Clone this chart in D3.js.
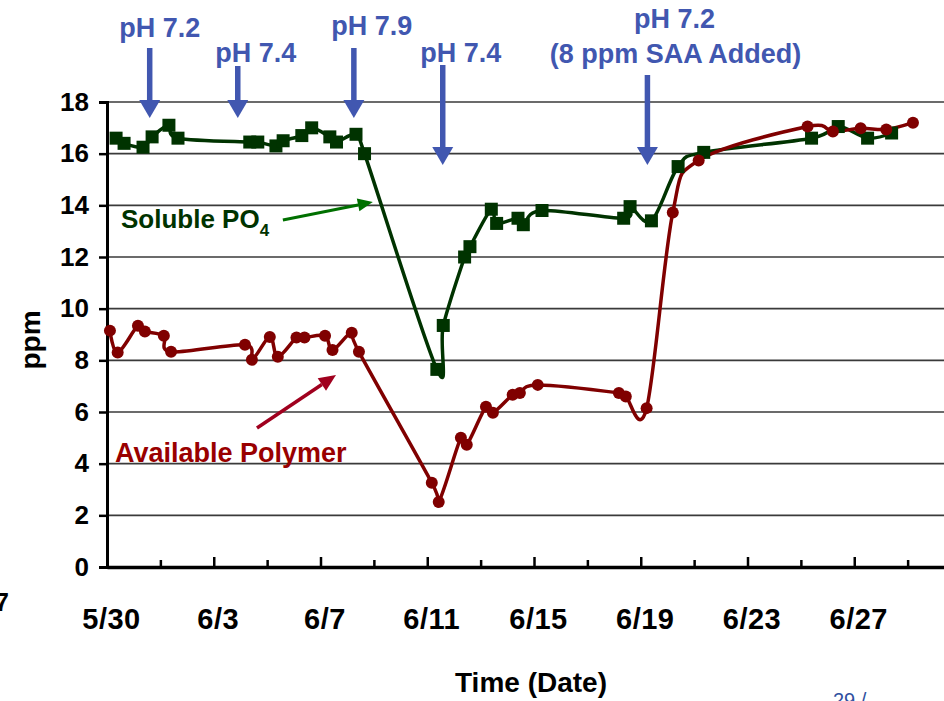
<!DOCTYPE html>
<html>
<head>
<meta charset="utf-8">
<script src="https://cdn.jsdelivr.net/npm/d3@7"></script>
<style>
  body { margin: 0; background: #fff; overflow: hidden; }
  svg text { font-family: Arial, "Liberation Sans", sans-serif; font-weight: bold; }
</style>
</head>
<body>
<svg id="chart" width="944" height="701"></svg>
<script>
// sample times, in days after 5/30
var po4Days = [0.34, 0.64, 1.35, 1.69, 2.32, 2.66, 5.35, 5.65, 6.33, 6.6, 7.3, 7.67, 8.35, 8.6, 9.33, 9.65,
               12.36, 12.6, 13.4, 13.6, 14.4, 14.6, 15.4, 15.6, 16.3, 19.36, 19.6, 20.4, 21.4, 22.36,
               26.4, 27.4, 28.5, 29.4];
var po4Vals = [16.6, 16.4, 16.25, 16.65, 17.1, 16.6, 16.45, 16.45, 16.3, 16.5, 16.7, 17.0, 16.65, 16.45, 16.75, 16.0,
               7.65, 9.35, 12.0, 12.4, 13.85, 13.3, 13.5, 13.25, 13.8, 13.5, 13.95, 13.4, 15.5, 16.05,
               16.6, 17.05, 16.6, 16.8];

var polyDays = [0.11, 0.4, 1.16, 1.42, 2.13, 2.4, 5.17, 5.43, 6.1, 6.4, 7.1, 7.4, 8.17, 8.45, 9.17, 9.44,
                12.17, 12.43, 13.26, 13.48, 14.2, 14.46, 15.2, 15.47, 16.14, 19.18, 19.44, 20.22,
                21.2, 22.17, 26.25, 27.2, 28.24, 29.2, 30.2];
var polyVals = [9.15, 8.3, 9.34, 9.12, 8.95, 8.33, 8.6, 8.02, 8.9, 8.14, 8.88, 8.88, 8.95, 8.4, 9.07, 8.33,
                3.26, 2.52, 5.0, 4.73, 6.2, 5.97, 6.67, 6.74, 7.05, 6.74, 6.6, 6.15,
                13.72, 15.74, 17.05, 16.86, 16.98, 16.94, 17.2];

var yTicks = [0, 2, 4, 6, 8, 10, 12, 14, 16, 18];
var xTickDays = [0, 2, 4, 6, 8, 10, 12, 14, 16, 18, 20, 22, 24, 26, 28, 30];
var xLabelDays = [0, 4, 8, 12, 16, 20, 24, 28];
var xLabels = ["5/30", "6/3", "6/7", "6/11", "6/15", "6/19", "6/23", "6/27"];

// pH change notes
var phDays = [1.6, 4.9, 9.25, 12.58, 20.25];
var phLabels = ["pH 7.2", "pH 7.4", "pH 7.9", "pH 7.4", "pH 7.2"];
var phSubLabels = ["", "", "", "", "(8 ppm SAA Added)"];

var svg = d3.select("#chart");
var blue = "#4157b0", green = "#003300", red = "#800000";

var x = d3.scaleLinear().domain([0, 32]).range([107, 961]);
var y = d3.scaleLinear().domain([0, 18]).range([567, 102]);

// gridlines
svg.append("g").selectAll("line")
  .data(yTicks.filter(function(d) { return d > 0; }))
  .enter().append("line")
    .attr("x1", x(0)).attr("x2", x(32))
    .attr("y1", function(d) { return y(d); })
    .attr("y2", function(d) { return y(d); })
    .attr("stroke", "#3a3a3a")
    .attr("stroke-width", 1.6);

// y axis
var yAxis = svg.append("g")
  .attr("transform", "translate(" + x(0) + ",0)")
  .call(d3.axisLeft(y).tickValues(yTicks).tickSize(8).tickPadding(10));
yAxis.select(".domain").attr("stroke", "#000").attr("stroke-width", 3);
yAxis.selectAll(".tick line").attr("stroke", "#000").attr("stroke-width", 2.5);
yAxis.selectAll(".tick text")
  .attr("fill", "#000")
  .style("font-size", "26px");

// x axis
var xAxis = svg.append("g")
  .attr("transform", "translate(0," + y(0) + ")")
  .call(d3.axisBottom(x).tickValues(xTickDays).tickSizeInner(-9).tickSizeOuter(0)
    .tickFormat(function(d) {
      var i = xLabelDays.indexOf(d);
      return i < 0 ? "" : xLabels[i];
    }));
xAxis.select(".domain").attr("stroke", "#000").attr("stroke-width", 3.5);
xAxis.selectAll(".tick line")
  .attr("stroke", "#000").attr("stroke-width", 2.5)
  .attr("y2", function(d) { return xLabelDays.indexOf(d) < 0 ? -7 : -10; });
xAxis.selectAll(".tick text")
  .attr("fill", "#000")
  .attr("y", 62).attr("dy", 0).attr("dx", 4)
  .style("font-size", "29px")
  .style("letter-spacing", "0.5px");

// axis titles
svg.append("text")
  .attr("transform", "translate(40,340) rotate(-90)")
  .attr("text-anchor", "middle")
  .style("font-size", "28px")
  .text("ppm");
svg.append("text")
  .attr("x", 531).attr("y", 692)
  .attr("text-anchor", "middle")
  .style("font-size", "28px")
  .text("Time (Date)");

// leftovers from the slide edge
svg.append("text").attr("x", -5).attr("y", 611).style("font-size", "25px").text("7");
svg.append("text").attr("x", 833).attr("y", 707)
  .style("font-size", "20px").style("font-weight", "normal")
  .attr("fill", "#3050a0").text("29 /");

// series
var line = d3.line()
  .x(function(d) { return x(d[0]); })
  .y(function(d) { return y(d[1]); })
  .curve(d3.curveCatmullRom.alpha(0));

var po4 = d3.zip(po4Days, po4Vals);
var poly = d3.zip(polyDays, polyVals);

svg.append("path").datum(po4)
  .attr("d", line).attr("fill", "none")
  .attr("stroke", green).attr("stroke-width", 3.5);
svg.append("path").datum(poly)
  .attr("d", line).attr("fill", "none")
  .attr("stroke", red).attr("stroke-width", 3.5);

svg.append("g").selectAll("rect")
  .data(po4)
  .enter().append("rect")
    .attr("x", function(d) { return x(d[0]) - 6.5; })
    .attr("y", function(d) { return y(d[1]) - 6.5; })
    .attr("width", 13).attr("height", 13)
    .attr("fill", green);

svg.append("g").selectAll("circle")
  .data(poly)
  .enter().append("circle")
    .attr("cx", function(d) { return x(d[0]); })
    .attr("cy", function(d) { return y(d[1]); })
    .attr("r", 6)
    .attr("fill", red);

// arrow helper
function arrow(x1, y1, x2, y2, color, w, headLen, headW) {
  var a = Math.atan2(y2 - y1, x2 - x1);
  var bx = x2 - headLen * Math.cos(a), by = y2 - headLen * Math.sin(a);
  var px = Math.sin(a) * headW / 2, py = -Math.cos(a) * headW / 2;
  svg.append("line")
    .attr("x1", x1).attr("y1", y1).attr("x2", bx).attr("y2", by)
    .attr("stroke", color).attr("stroke-width", w);
  svg.append("path")
    .attr("d", "M" + x2 + "," + y2 + "L" + (bx + px) + "," + (by + py) + "L" + (bx - px) + "," + (by - py) + "Z")
    .attr("fill", color);
}

// pH notes: shaft top, tip value, text offset and baseline
var phLayout = [
  { top: 48, tip: 17.38, dx: 10, ty: 37 },
  { top: 66, tip: 17.38, dx: 18, ty: 62 },
  { top: 48, tip: 17.38, dx: 18, ty: 35 },
  { top: 65, tip: 15.56, dx: 18, ty: 62 },
  { top: 75, tip: 15.56, dx: 27, ty: 28 }
];
phDays.forEach(function(d, i) {
  var L = phLayout[i], ax = x(d);
  arrow(ax, L.top, ax, y(L.tip), blue, 5.5, 18, 21);
  svg.append("text")
    .attr("x", ax + L.dx).attr("y", L.ty)
    .attr("text-anchor", "middle")
    .attr("fill", blue)
    .style("font-size", "27px")
    .text(phLabels[i]);
  if (phSubLabels[i]) {
    svg.append("text")
      .attr("x", ax + L.dx + 1).attr("y", L.ty + 35)
      .attr("text-anchor", "middle")
      .attr("fill", blue)
      .style("font-size", "27px")
      .text(phSubLabels[i]);
  }
});

// series labels
var po4Label = svg.append("text")
  .attr("x", 121).attr("y", 228)
  .attr("fill", green)
  .style("font-size", "26px");
po4Label.append("tspan").text("Soluble PO");
po4Label.append("tspan").attr("dy", 8).style("font-size", "17px").text("4");
arrow(x(6.59), y(13.43), x(9.96), y(14.13), "#007000", 3, 15, 13);

svg.append("text")
  .attr("x", 115).attr("y", 462)
  .attr("fill", "#990000")
  .style("font-size", "27px")
  .text("Available Polymer");
arrow(x(5.62), y(5.38), x(8.58), y(7.43), "#a0001e", 3.5, 17, 15);
</script>
</body>
</html>
